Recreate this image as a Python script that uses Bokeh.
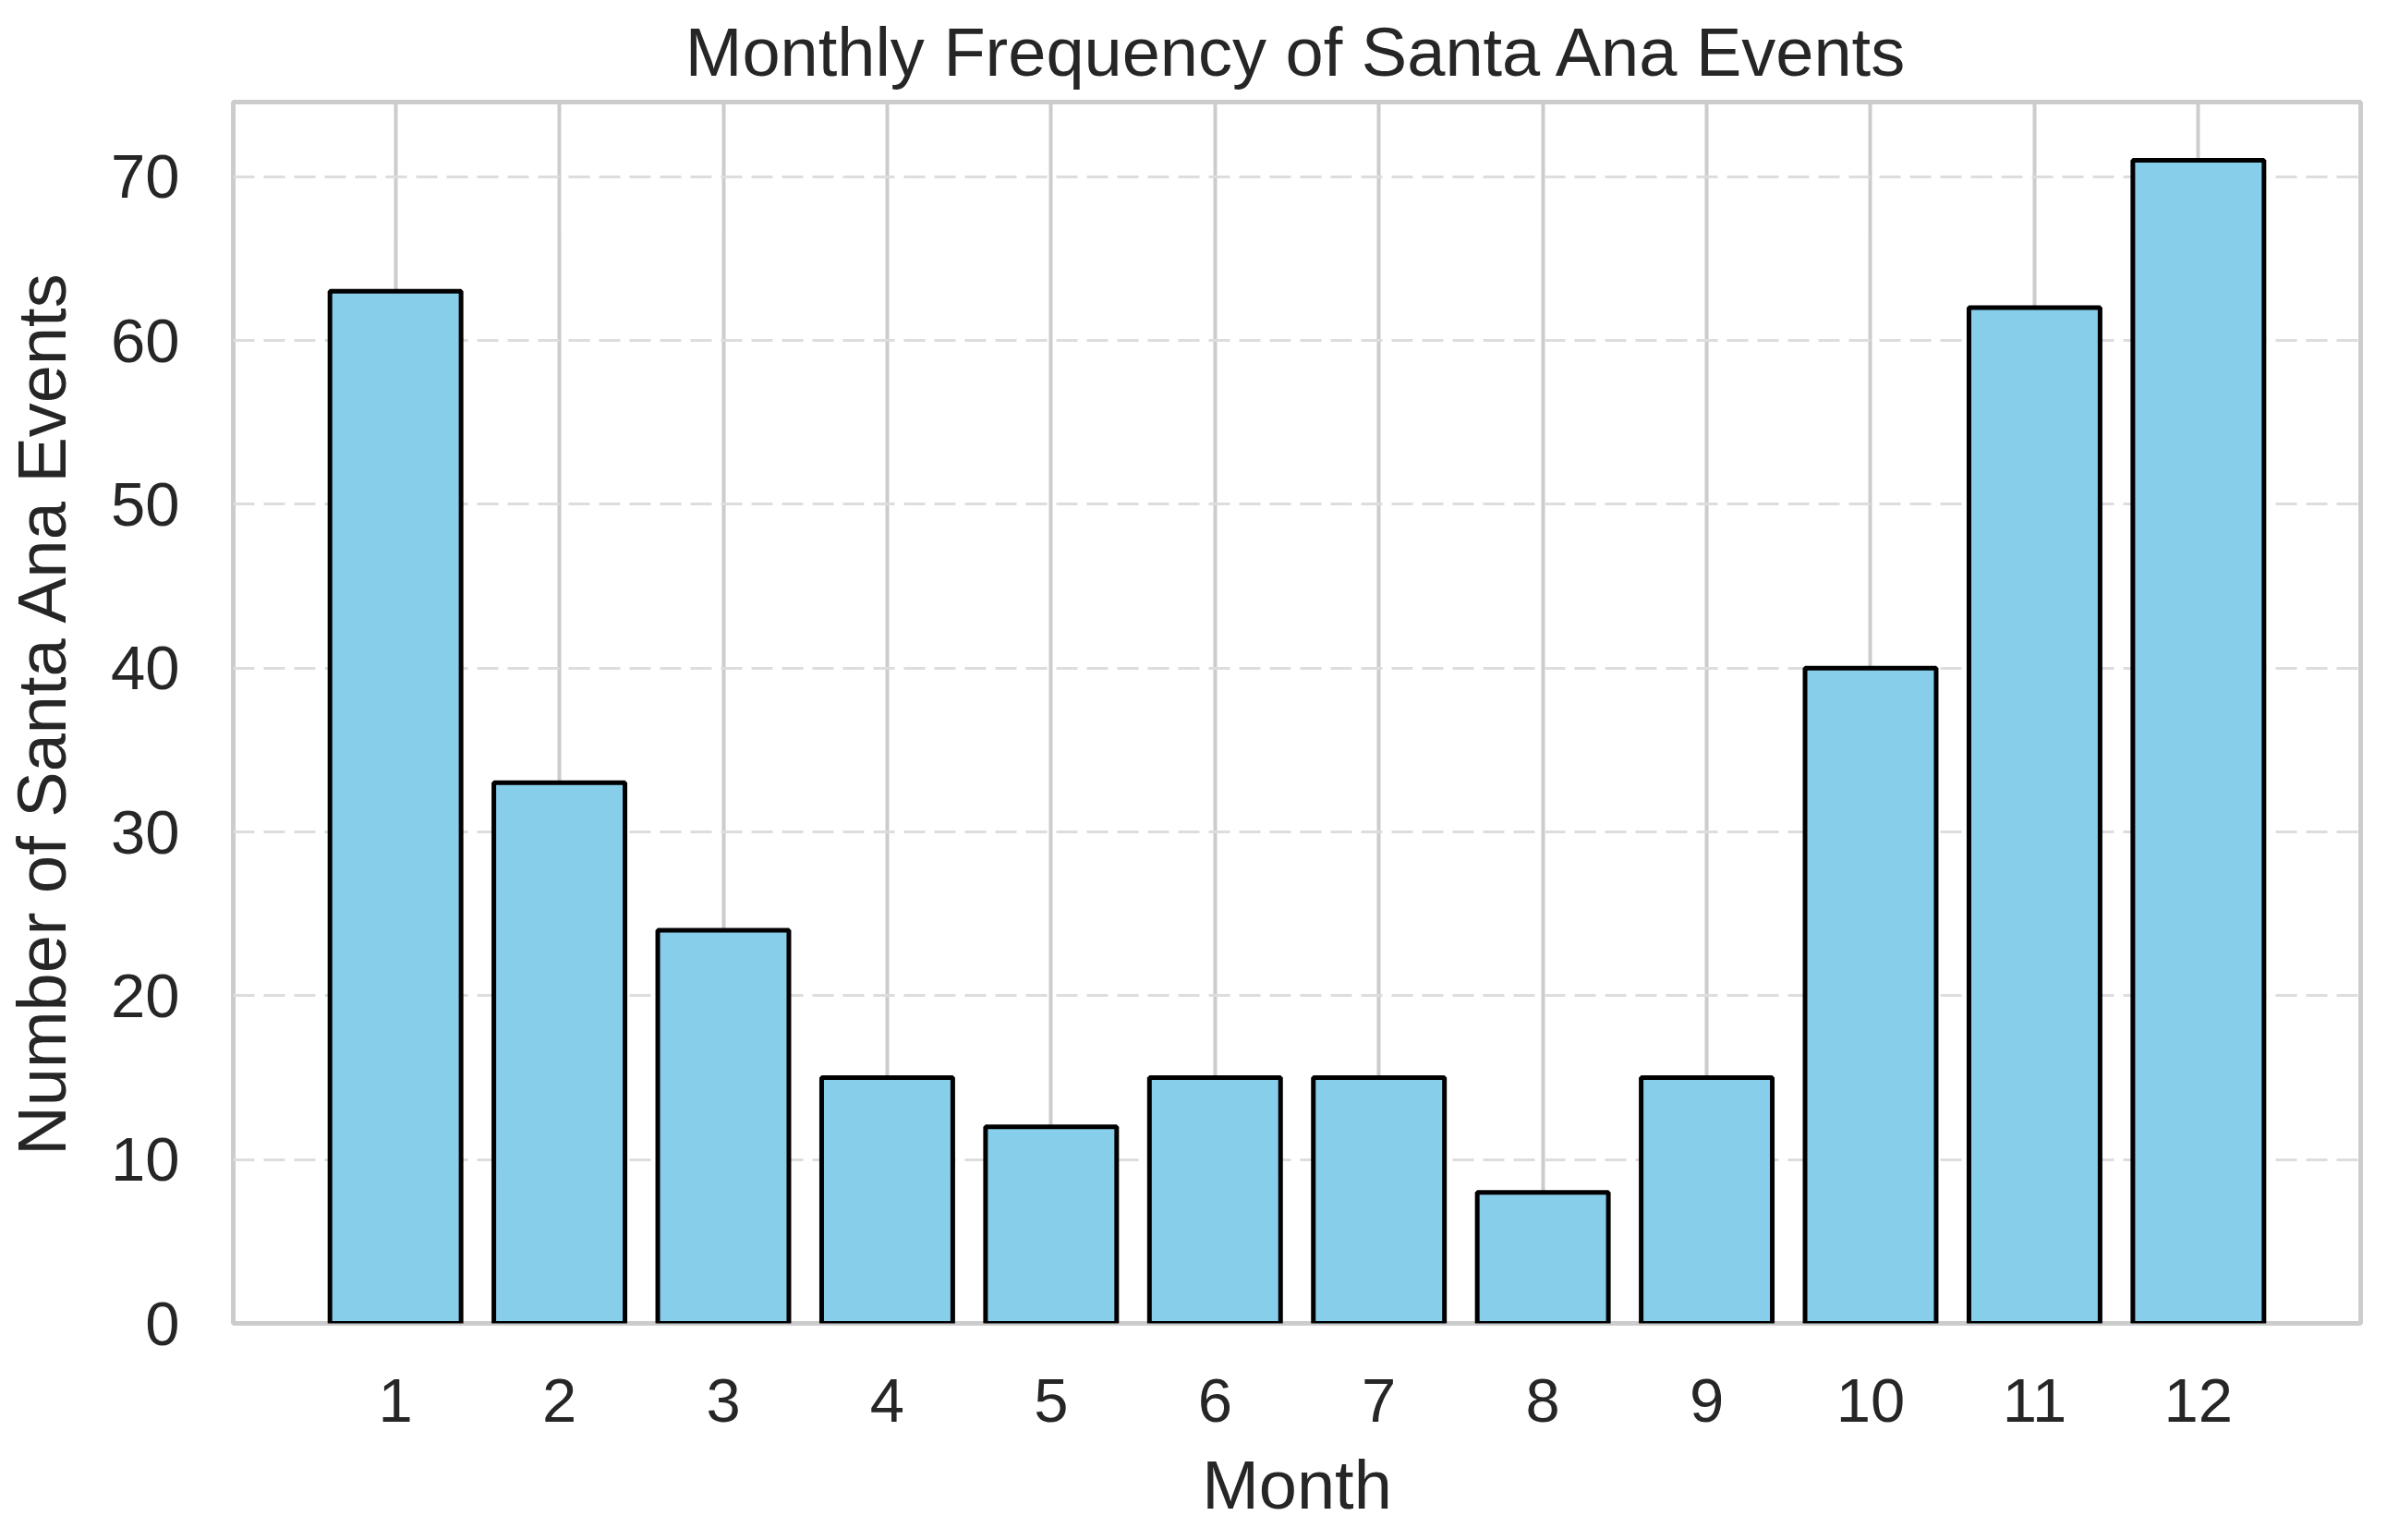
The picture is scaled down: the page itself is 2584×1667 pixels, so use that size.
from bokeh.plotting import figure
from bokeh.models import Range1d, FixedTicker, Title
from bokeh.embed import file_html
from bokeh.resources import INLINE

months = [1, 2, 3, 4, 5, 6, 7, 8, 9, 10, 11, 12]
events = [63, 33, 24, 15, 12, 15, 15, 8, 15, 40, 62, 71]
y_ticks = [0, 10, 20, 30, 40, 50, 60, 70]
title_text = "Monthly Frequency of Santa Ana Events"

FONT = "Liberation Sans"
TXT = "#262626"

p = figure(width=2568, height=1651, output_backend="svg", toolbar_location=None,
           x_range=Range1d(0.01, 12.99), y_range=Range1d(0, 74.55),
           min_border_left=245, min_border_right=13, min_border_top=100, min_border_bottom=219)

p.title = Title(text=title_text, align="center",
                text_font=FONT, text_font_size="74px", text_font_style="normal",
                text_color=TXT, standoff=25)

p.vbar(x=months, top=events, bottom=0, width=0.8, fill_color="#87CEEB",
       line_color="black", line_width=5)

p.outline_line_color = "#cccccc"
p.outline_line_width = 5
p.background_fill_color = "white"
p.border_fill_color = "white"

p.xaxis.ticker = FixedTicker(ticks=months)
p.yaxis.ticker = FixedTicker(ticks=y_ticks)

for ax in (p.xaxis, p.yaxis):
    ax.axis_line_color = None
    ax.major_tick_line_color = None
    ax.minor_tick_line_color = None
    ax.major_tick_out = 0
    ax.major_tick_in = 0
    ax.major_label_text_font = FONT
    ax.major_label_text_font_size = "67px"
    ax.major_label_text_color = TXT
    ax.axis_label_text_font = FONT
    ax.axis_label_text_font_size = "74px"
    ax.axis_label_text_font_style = "normal"
    ax.axis_label_text_color = TXT

p.xaxis.axis_label = "Month"
p.yaxis.axis_label = "Number of Santa Ana Events"
p.xaxis.major_label_standoff = 60
p.yaxis.major_label_standoff = 58
p.xaxis.axis_label_standoff = 24
p.yaxis.axis_label_standoff = 30

p.xgrid.ticker = FixedTicker(ticks=months)
p.xgrid.grid_line_color = "#cccccc"
p.xgrid.grid_line_width = 4
p.ygrid.ticker = FixedTicker(ticks=y_ticks)
p.ygrid.grid_line_color = "#dddddd"
p.ygrid.grid_line_width = 3
p.ygrid.grid_line_dash = "23 10"

open("out.html", "w").write(file_html(p, INLINE))
